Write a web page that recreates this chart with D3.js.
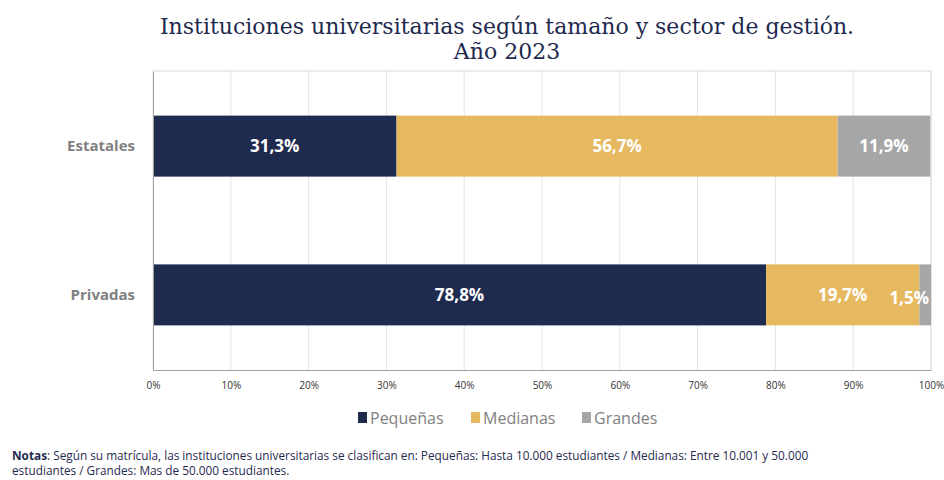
<!DOCTYPE html>
<html>
<head>
<meta charset="utf-8">
<script src="https://cdn.jsdelivr.net/npm/d3@7"></script>
<style>
  body { margin: 0; background: #fff; }
  svg { display: block; }
</style>
</head>
<body>
<div id="chart"></div>
<script>
const categories = ["Estatales", "Privadas"];
const seriesNames = ["Pequeñas", "Medianas", "Grandes"];
const pequenas = [31.3, 78.8];
const medianas = [56.7, 19.7];
const grandes = [11.9, 1.5];
const tickValues = [0, 10, 20, 30, 40, 50, 60, 70, 80, 90, 100];
const colors = ["#1f2a4f", "#e6b961", "#a6a6a6"];

const W = 944, H = 480;
const plotLeft = 153, plotRight = 931, plotTop = 71, plotBottom = 370;

const svg = d3.select("#chart").append("svg")
    .attr("width", W)
    .attr("height", H);

// title
svg.append("text")
    .attr("x", 507).attr("y", 34)
    .attr("text-anchor", "middle")
    .style("font-family", "'DejaVu Serif', serif")
    .style("font-size", "22px")
    .style("fill", "#1f2a4f")
    .text("Instituciones universitarias según tamaño y sector de gestión.");
svg.append("text")
    .attr("x", 507).attr("y", 59)
    .attr("text-anchor", "middle")
    .style("font-family", "'DejaVu Serif', serif")
    .style("font-size", "22px")
    .style("fill", "#1f2a4f")
    .text("Año 2023");

const x = d3.scaleLinear().domain([0, 100]).range([plotLeft, plotRight]);
const y = d3.scaleBand().domain(categories).range([plotTop, plotBottom]).paddingInner(0.59).paddingOuter(0.3);

// gridlines
svg.append("g")
    .selectAll("line")
    .data(tickValues)
    .join("line")
    .attr("x1", d => x(d)).attr("x2", d => x(d))
    .attr("y1", plotTop).attr("y2", plotBottom)
    .attr("stroke", "#e3e3e3")
    .attr("stroke-width", 1);

// frame
svg.append("line").attr("x1", plotLeft).attr("x2", plotRight).attr("y1", plotTop).attr("y2", plotTop)
    .attr("stroke", "#d9d9d9");
svg.append("line").attr("x1", plotRight).attr("x2", plotRight).attr("y1", plotTop).attr("y2", plotBottom)
    .attr("stroke", "#d9d9d9");

// stacked data
const rows = categories.map((c, i) => ({ cat: c, Pequeñas: pequenas[i], Medianas: medianas[i], Grandes: grandes[i] }));
const stacked = d3.stack().keys(seriesNames)(rows);

const layers = svg.append("g")
    .selectAll("g")
    .data(stacked)
    .join("g")
    .attr("fill", (d, i) => colors[i]);

layers.selectAll("rect")
    .data(d => d)
    .join("rect")
    .attr("x", d => x(d[0]))
    .attr("width", d => x(d[1]) - x(d[0]))
    .attr("y", d => y(d.data.cat))
    .attr("height", y.bandwidth());

// labels
stacked.forEach(layer => {
    svg.append("g")
        .selectAll("text")
        .data(layer)
        .join("text")
        .attr("x", d => {
            const v = d[1] - d[0];
            return v < 5 ? x(d[1]) - 2 : (x(d[0]) + x(d[1])) / 2;
        })
        .attr("y", d => y(d.data.cat) + y.bandwidth() / 2 + ((d[1] - d[0]) < 5 ? 9 : 6))
        .attr("text-anchor", d => (d[1] - d[0]) < 5 ? "end" : "middle")
        .style("font-family", "'Open Sans', sans-serif")
        .style("font-weight", "bold")
        .style("font-size", "17px")
        .style("fill", "#fff")
        .text(d => d3.format(".1f")(d[1] - d[0]).replace(".", ",") + "%");
});

// axes
const xAxis = svg.append("g")
    .attr("transform", `translate(0,${plotBottom})`)
    .call(d3.axisBottom(x).tickValues(tickValues).tickFormat(d => d + "%").tickSize(0).tickPadding(12));
xAxis.select(".domain").attr("stroke", "#a0a0a0");
xAxis.selectAll("text")
    .style("font-family", "'Open Sans', sans-serif")
    .style("font-size", "10px")
    .style("fill", "#333");

const yAxis = svg.append("g")
    .attr("transform", `translate(${plotLeft},0)`)
    .call(d3.axisLeft(y).tickSize(0).tickPadding(18));
yAxis.select(".domain").attr("stroke", "#a0a0a0");
yAxis.selectAll("text")
    .style("font-family", "'Open Sans', sans-serif")
    .style("font-weight", "bold")
    .style("font-size", "15px")
    .style("fill", "#808080");

// legend
const legendX = [358, 471, 582];
const legend = svg.append("g")
    .selectAll("g")
    .data(seriesNames)
    .join("g")
    .attr("transform", (d, i) => `translate(${legendX[i]},424)`);
legend.append("rect")
    .attr("x", 0).attr("y", -12)
    .attr("width", 9).attr("height", 11)
    .attr("fill", (d, i) => colors[i]);
legend.append("text")
    .attr("x", 12).attr("y", 0)
    .style("font-family", "'Open Sans', sans-serif")
    .style("font-size", "16px")
    .style("fill", "#7f7f7f")
    .text(d => d);

// notes
const notes = svg.append("text")
    .attr("x", 12).attr("y", 460)
    .style("font-family", "'Open Sans', sans-serif")
    .style("font-size", "11.8px")
    .style("fill", "#1f2a4f");
notes.append("tspan").style("font-weight", "bold").text("Notas");
notes.append("tspan").text(":  Según su matrícula, las instituciones universitarias se clasifican en: Pequeñas: Hasta 10.000 estudiantes / Medianas: Entre 10.001 y 50.000");
svg.append("text")
    .attr("x", 12).attr("y", 475)
    .style("font-family", "'Open Sans', sans-serif")
    .style("font-size", "11.8px")
    .style("fill", "#1f2a4f")
    .text("estudiantes / Grandes: Mas de 50.000 estudiantes.");
</script>
</body>
</html>
